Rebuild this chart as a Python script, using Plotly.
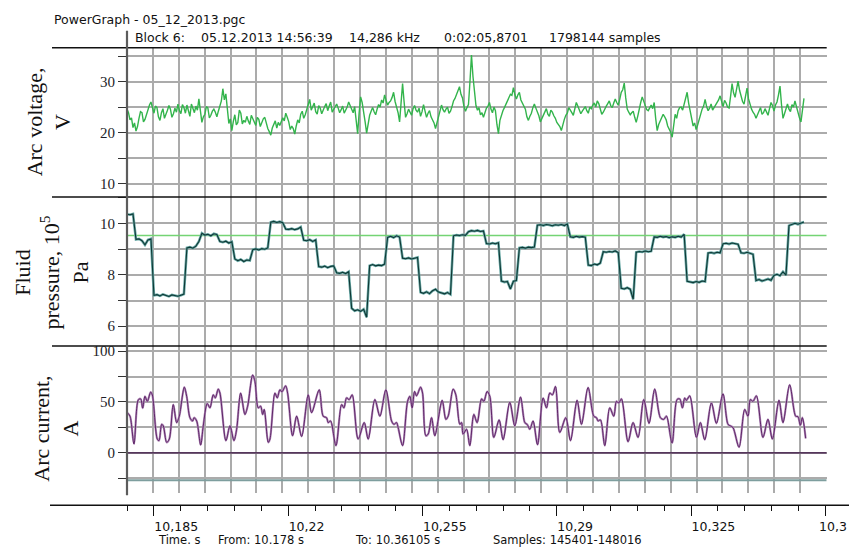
import numpy as np
import plotly.graph_objects as go

# ---------------- data ----------------
t_from = 10.178
t_to = 10.36105
grid_step = 0.007
panel_t_end = 10.3672
time_axis_end = 10.36035

voltage = [
    24.6, 23.9, 22.5, 22.9, 21.0, 21.9, 20.3, 21.2, 22.8, 24.1, 23.9, 22.1, 22.6, 23.7, 24.5, 25.4, 26.0, 24.6, 23.8, 25.2,
    24.9, 23.1, 22.4, 23.9, 24.7, 22.8, 23.5, 24.4, 25.3, 24.6, 23.0, 23.7, 24.8, 24.0, 25.6, 24.3, 23.7, 25.5, 24.9, 23.8,
    25.4, 24.5, 23.2, 25.6, 24.8, 23.9, 25.2, 24.4, 26.6, 24.0, 22.0, 23.1, 23.6, 25.1, 24.8, 22.9, 23.4, 24.2, 24.6, 24.0,
    23.1, 24.2, 25.0, 26.2, 28.6, 26.4, 27.6, 24.3, 21.8, 22.7, 20.4, 22.2, 23.5, 21.5, 22.0, 24.4, 23.8, 21.7, 22.4, 22.0,
    23.2, 22.3, 21.6, 23.4, 22.8, 21.9, 21.4, 23.0, 22.6, 21.2, 21.9, 22.7, 23.0, 21.6, 20.8, 20.2, 19.5, 20.9, 21.8, 22.3,
    20.9, 22.0, 21.4, 22.2, 22.9, 22.3, 23.8, 23.0, 22.1, 20.6, 21.3, 20.8, 19.7, 21.3, 22.5, 21.9, 23.6, 24.2, 22.8, 23.5,
    24.7, 25.3, 26.5, 24.4, 25.0, 25.8, 24.1, 23.6, 25.3, 24.8, 23.7, 24.6, 25.1, 25.7, 24.3, 25.2, 26.0, 24.0, 24.5, 24.9,
    25.6, 24.8, 23.9, 24.5, 25.2, 23.8, 24.4, 25.0, 26.0, 25.2, 24.3, 23.9, 25.1, 22.6, 19.8, 23.9, 27.0, 25.9, 24.2, 22.1,
    19.9, 21.8, 23.4, 24.2, 24.9, 24.1, 23.5, 24.6, 25.5, 25.0, 26.4, 25.8, 27.4, 26.3, 25.4, 25.9, 26.2, 26.9, 27.9, 26.1,
    25.0, 23.9, 22.1, 26.0, 29.6, 26.1, 23.0, 23.7, 24.6, 24.0, 23.4, 24.7, 25.3, 24.4, 24.0, 24.8, 23.2, 24.1, 25.5, 24.2,
    23.0, 23.8, 24.3, 23.1, 22.4, 21.9, 20.8, 22.0, 23.4, 24.6, 25.4, 24.5, 24.0, 24.6, 25.0, 23.8, 24.2, 25.1, 26.2, 26.7,
    27.6, 28.1, 29.0, 27.5, 26.8, 25.1, 24.2, 24.9, 25.5, 30.0, 35.2, 31.0, 27.8, 25.3, 24.4, 24.9, 23.5, 23.9, 23.0, 24.1,
    24.8, 25.2, 25.9, 24.6, 23.9, 25.0, 24.3, 21.6, 19.8, 22.4, 23.6, 24.3, 24.9, 25.6, 26.3, 26.9, 27.5, 27.3, 28.8, 27.4,
    26.6, 27.4, 27.9, 26.4, 25.8, 25.2, 24.6, 23.1, 22.4, 23.2, 23.8, 24.9, 25.6, 24.8, 24.2, 23.3, 22.1, 22.8, 23.5, 24.3,
    24.7, 23.6, 23.2, 24.4, 24.0, 23.3, 22.8, 22.0, 21.5, 21.2, 20.4, 21.7, 22.6, 23.4, 23.8, 24.9, 24.5, 23.9, 23.4, 24.6,
    25.9, 25.2, 24.6, 23.7, 24.2, 24.8, 25.1, 24.3, 23.8, 25.0, 24.7, 25.4, 25.8, 25.0, 26.2, 25.7, 24.8, 23.6, 24.0, 24.7,
    25.2, 25.7, 26.2, 25.3, 24.9, 25.8, 26.6, 25.9, 25.4, 26.5, 27.9, 28.4, 29.7, 26.8, 24.6, 24.0, 23.5, 23.9, 24.2, 23.0,
    22.0, 23.2, 24.8, 25.9, 27.0, 26.2, 25.1, 24.5, 24.3, 24.9, 25.4, 24.7, 25.9, 22.8, 20.4, 21.6, 22.4, 23.2, 23.6, 23.1,
    22.5, 21.3, 20.8, 20.1, 19.1, 21.9, 23.6, 22.8, 24.3, 24.9, 25.0, 24.4, 25.7, 26.6, 27.9, 25.8, 24.2, 22.5, 21.3, 21.9,
    20.6, 21.5, 22.7, 23.9, 24.6, 25.2, 26.5, 25.1, 24.3, 24.8, 25.6, 24.4, 24.9, 25.5, 26.0, 26.4, 27.2, 26.1, 25.1, 26.3,
    25.8, 25.0, 24.8, 27.1, 29.6, 27.8, 26.9, 28.5, 30.1, 28.3, 27.2, 26.1, 25.6, 26.9, 28.7, 26.6, 25.4, 24.6, 24.0, 23.6,
    22.8, 23.4, 24.3, 24.9, 23.6, 23.9, 24.7, 24.1, 23.4, 24.7, 25.9, 25.3, 24.2, 25.4, 26.0, 27.4, 29.1, 25.5, 22.8, 23.7,
    24.9, 25.6, 24.6, 24.1, 25.5, 25.0, 26.2, 24.9, 23.6, 22.9, 22.1, 24.3, 26.7,
]

pressure = [
    10.36, 10.34, 10.37, 9.38, 9.40, 9.33, 9.17, 9.36, 9.40, 7.20,
    7.23, 7.18, 7.24, 7.20, 7.16, 7.22, 7.19, 7.17, 7.21, 7.25,
    9.05, 9.08, 9.04, 9.12, 9.30, 9.62, 9.55, 9.58, 9.52, 9.60,
    9.57, 9.30, 9.27, 9.31, 9.24, 9.29, 8.62, 8.55, 8.60, 8.52,
    8.58, 8.56, 8.98, 9.01, 8.97, 9.02, 9.00, 9.05, 10.05, 10.08,
    10.04, 10.07, 10.03, 9.78, 9.77, 9.80, 9.76, 9.79, 9.86, 9.35,
    9.33, 9.37, 9.30, 9.36, 8.32, 8.30, 8.34, 8.28, 8.33, 8.35,
    8.08, 8.06, 8.10, 8.05, 8.12, 6.70, 6.60, 6.64, 6.58, 6.66,
    6.35, 8.36, 8.40, 8.35, 8.38, 8.36, 8.42, 9.46, 9.50, 9.45,
    9.52, 9.47, 8.65, 8.63, 8.66, 8.62, 8.65, 8.68, 7.32, 7.28,
    7.34, 7.27, 7.38, 7.44, 7.33, 7.29, 7.26, 7.31, 7.24, 9.52,
    9.55, 9.53, 9.56, 9.54, 9.68, 9.72, 9.70, 9.73, 9.69, 9.71,
    9.22, 9.20, 9.24, 9.21, 9.25, 7.76, 7.72, 7.74, 7.45, 7.75,
    7.78, 9.05, 9.07, 9.04, 9.08, 9.06, 9.08, 9.93, 9.95, 9.92,
    9.96, 9.94, 9.91, 9.95, 9.93, 9.96, 9.92, 9.98, 9.48, 9.46,
    9.50, 9.47, 9.49, 9.47, 8.38, 8.36, 8.42, 8.39, 8.46, 8.90,
    8.88, 8.91, 8.89, 8.93, 8.87, 7.48, 7.45, 7.50, 7.44, 7.05,
    8.88, 8.91, 8.89, 8.93, 8.90, 8.92, 9.48, 9.46, 9.50, 9.47,
    9.49, 9.45, 9.48, 9.46, 9.50, 9.47, 9.58, 7.75, 7.72, 7.70,
    7.74, 7.71, 7.76, 7.74, 8.85, 8.87, 8.84, 8.88, 8.86, 9.21,
    9.23, 9.20, 9.24, 9.22, 9.19, 8.86, 8.84, 8.88, 8.85, 8.80,
    7.78, 7.82, 7.76, 7.80, 7.84, 7.79, 7.98, 8.02, 7.97, 8.12,
    7.99, 9.92, 9.98, 10.01, 9.97, 10.03, 10.06,
]

current_t = [
    10.17808, 10.17881, 10.17989, 10.18105, 10.18170, 10.18224, 10.18286, 10.18349, 10.18441, 10.18484,
    10.18619, 10.18665, 10.18738, 10.18781, 10.18873, 10.18943, 10.19051, 10.19143, 10.19214, 10.19349,
    10.19414, 10.19503, 10.19576, 10.19611, 10.19684, 10.19792, 10.19862, 10.19970, 10.20043, 10.20132,
    10.20187, 10.20268, 10.20314, 10.20476, 10.20584, 10.20692, 10.20765, 10.20873, 10.20989, 10.21062,
    10.21197, 10.21260, 10.21349, 10.21414, 10.21468, 10.21511, 10.21619, 10.21665, 10.21800, 10.21862,
    10.21935, 10.21989, 10.22089, 10.22143, 10.22278, 10.22387, 10.22522, 10.22700, 10.22792, 10.22997,
    10.23105, 10.23197, 10.23241, 10.23305, 10.23449, 10.23603, 10.23665, 10.23738, 10.23808, 10.23889,
    10.24051, 10.24214, 10.24322, 10.24503, 10.24638, 10.24800, 10.24954, 10.25016, 10.25089, 10.25132,
    10.25251, 10.25387, 10.25449, 10.25511, 10.25576, 10.25630, 10.25738, 10.25792, 10.25881, 10.25943,
    10.26035, 10.26124, 10.26322, 10.26422, 10.26484, 10.26619, 10.26692, 10.26800, 10.26846, 10.26889,
    10.26981, 10.27070, 10.27178, 10.27268, 10.27387, 10.27449, 10.27538, 10.27611, 10.27719, 10.27862,
    10.27970, 10.28151, 10.28286, 10.28441, 10.28557, 10.28619, 10.28692, 10.28781, 10.28900, 10.29051,
    10.29143, 10.29232, 10.29305, 10.29387, 10.29503, 10.29665, 10.29792, 10.29970, 10.30089, 10.30268,
    10.30422, 10.30495, 10.30538, 10.30603, 10.30719, 10.30854, 10.30962, 10.31035, 10.31097, 10.31170,
    10.31349, 10.31484, 10.31619, 10.31773, 10.31916, 10.32070, 10.32224, 10.32314, 10.32387, 10.32538,
    10.32673, 10.32746, 10.32819, 10.32881, 10.32927, 10.33016, 10.33197, 10.33305, 10.33422, 10.33603,
    10.33738, 10.33916, 10.34051, 10.34116, 10.34187, 10.34349, 10.34503, 10.34592, 10.34657, 10.34727,
    10.34819, 10.34997, 10.35132, 10.35251, 10.35430, 10.35538, 10.35719, 10.35881, 10.35943, 10.36008,
    10.36062, 10.36151,
]

current = [
    39.4, 36.0, 8.7, 52.0, 53.0, 44.0, 55.5, 50.6, 59.7, 57.0,
    13.5, 12.0, 28.0, 26.5, 10.3, 13.5, 47.4, 29.7, 36.0, 64.5,
    55.5, 34.5, 31.3, 34.5, 31.3, 7.7, 26.5, 48.4, 44.2, 57.0,
    54.0, 62.6, 58.7, 12.0, 26.5, 12.0, 23.2, 58.7, 37.7, 45.8,
    76.5, 70.0, 44.2, 45.8, 37.7, 42.6, 10.3, 13.5, 58.7, 54.0,
    62.0, 60.0, 65.8, 58.7, 16.8, 36.0, 16.1, 57.0, 39.4, 62.0,
    36.0, 34.5, 29.7, 31.3, 7.1, 47.4, 44.2, 54.0, 52.3, 57.0,
    13.5, 29.7, 13.5, 52.3, 36.0, 62.0, 31.3, 28.0, 29.7, 24.8,
    7.1, 50.6, 55.5, 44.2, 60.3, 56.0, 64.5, 58.7, 16.8, 18.4,
    34.5, 16.8, 51.6, 32.9, 36.0, 62.6, 57.0, 28.0, 29.7, 18.4,
    23.2, 7.1, 37.7, 29.7, 53.0, 50.6, 60.3, 55.5, 15.2, 32.3,
    12.9, 49.7, 26.5, 54.8, 29.7, 28.0, 23.2, 31.3, 8.0, 53.9,
    44.2, 58.7, 57.0, 65.2, 20.0, 34.5, 12.0, 51.6, 28.0, 64.2,
    36.0, 34.5, 31.3, 32.3, 7.1, 44.2, 36.0, 50.6, 49.0, 53.0,
    11.0, 29.7, 15.2, 52.3, 29.0, 62.6, 34.5, 32.9, 36.0, 9.7,
    52.3, 53.0, 44.2, 53.9, 51.6, 56.0, 15.2, 29.7, 12.9, 49.0,
    29.0, 58.0, 28.0, 26.5, 24.8, 5.5, 42.6, 36.0, 52.3, 50.6,
    56.0, 15.2, 32.9, 13.5, 51.6, 29.7, 66.8, 36.0, 35.5, 27.1,
    34.5, 14.2,
]

pressure_setpoint = 9.53
current_zero = 0.0
current_lower = -27.0

time_tickvals = [10.185, 10.22, 10.255, 10.29, 10.325, 10.36]
time_ticktext = ["10,185", "10,22", "10,255", "10,29", "10,325", ""]
time_edge_label = "10,3"   # the last label, cut by the right edge in the source

header_title = "PowerGraph - 05_12_2013.pgc"
header_items = ["Block 6:", "05.12.2013 14:56:39", "14,286 kHz", "0:02:05,8701", "1798144 samples"]
footer_items = ["Time. s", "From: 10.178 s", "To: 10.36105 s", "Samples: 145401-148016"]

# ---------------- figure ----------------
W, H = 849, 547
def px(x):
    return x / W
def py(y):
    return 1 - y / H

t_samples = np.linspace(t_from, t_to, len(voltage))
t_press = np.linspace(t_from, t_to, len(pressure))
t_line = [t_from, panel_t_end]

fig = go.Figure()

fig.add_trace(go.Scatter(x=t_samples, y=voltage, xaxis="x", yaxis="y", mode="lines",
                         line=dict(color="#33b44c", width=1.4), hoverinfo="skip"))

fig.add_trace(go.Scatter(x=t_line, y=[pressure_setpoint] * 2, xaxis="x2", yaxis="y2", mode="lines",
                         line=dict(color="#74d474", width=1.4), hoverinfo="skip"))
fig.add_trace(go.Scatter(x=t_press, y=pressure, xaxis="x2", yaxis="y2", mode="lines",
                         line=dict(color="#6aa9a6", width=2.6), hoverinfo="skip"))
fig.add_trace(go.Scatter(x=t_press, y=pressure, xaxis="x2", yaxis="y2", mode="lines",
                         line=dict(color="#0e3835", width=1.1), hoverinfo="skip"))

fig.add_trace(go.Scatter(x=t_line, y=[current_zero] * 2, xaxis="x3", yaxis="y3", mode="lines",
                         line=dict(color="#3a0f42", width=1.2), hoverinfo="skip"))
fig.add_trace(go.Scatter(x=t_line, y=[current_lower] * 2, xaxis="x3", yaxis="y3", mode="lines",
                         line=dict(color="#7e9e9e", width=2), hoverinfo="skip"))
fig.add_trace(go.Scatter(x=current_t, y=current, xaxis="x3", yaxis="y3", mode="lines",
                         line=dict(color="#b28db9", width=2.2, shape="spline", smoothing=0.9), hoverinfo="skip"))
fig.add_trace(go.Scatter(x=current_t, y=current, xaxis="x3", yaxis="y3", mode="lines",
                         line=dict(color="#561a60", width=0.9, shape="spline", smoothing=0.9), hoverinfo="skip"))

# invisible trace that makes the time axis render (overlaying the lower panel)
fig.add_trace(go.Scatter(x=[t_from], y=[None], xaxis="x4", yaxis="y3", mode="lines",
                         hoverinfo="skip", showlegend=False))

grid_c = "#ababab"
xdom = [px(127), px(826.7)]
common_x = dict(range=[t_from, panel_t_end], tick0=t_from, dtick=grid_step, showgrid=True,
                gridcolor=grid_c, gridwidth=1.5, showticklabels=False, ticks="", zeroline=False,
                showline=False, domain=xdom)

tickfont = dict(family="Liberation Serif", size=15, color="#1e1e28")

def yax(rng, dom, major, minor, anchor):
    return dict(range=rng, domain=dom, anchor=anchor, tick0=0, dtick=major, ticks="outside",
                ticklen=8, tickcolor="#333", tickwidth=1, showgrid=True, gridcolor=grid_c,
                gridwidth=1.5, zeroline=False, showline=False, tickfont=tickfont,
                minor=dict(tick0=0, dtick=minor, ticks="outside", ticklen=8, tickcolor="#333",
                           tickwidth=1, showgrid=True, gridcolor=grid_c, gridwidth=1.5))

fig.update_layout(
    width=W, height=H, autosize=False,
    margin=dict(l=0, r=0, t=0, b=0),
    paper_bgcolor="white", plot_bgcolor="white", showlegend=False,
    xaxis=dict(**common_x, anchor="y"),
    xaxis2=dict(**common_x, anchor="y2"),
    xaxis3=dict(**common_x, anchor="y3"),
    xaxis4=dict(range=[t_from, time_axis_end], domain=xdom, anchor="free", position=py(505),
                overlaying="x3",
                tickmode="array", tickvals=time_tickvals, ticktext=time_ticktext,
                ticks="outside", ticklen=10, tickcolor="#111", tickwidth=1,
                ticklabelposition="outside right", ticklabelstandoff=10,
                showgrid=False, zeroline=False, showline=False,
                tickfont=dict(family="DejaVu Sans", size=12.5, color="#111"),
                minor=dict(tick0=t_from, dtick=grid_step, ticks="outside", ticklen=5,
                           tickcolor="#111", tickwidth=1, showgrid=False)),
    yaxis=yax([7.41, 36.62], [py(195), py(45)], 10, 5, "x"),
    yaxis2=yax([5.226, 11.034], [py(345), py(195)], 2, 1, "x2"),
    yaxis3=yax([-39.8, 104.9], [py(493), py(345)], 50, 25, "x3"),
)

shapes = []
for yy in (45, 195, 345):
    shapes.append(dict(type="line", xref="paper", yref="paper", x0=px(52), x1=px(826.7),
                       y0=py(yy), y1=py(yy), line=dict(color="#111", width=1.5), layer="above"))
shapes.append(dict(type="line", xref="paper", yref="paper", x0=px(50), x1=1,
                   y0=py(505), y1=py(505), line=dict(color="#111", width=1.3), layer="above"))
shapes.append(dict(type="line", xref="paper", yref="paper", x0=px(127), x1=px(127),
                   y0=py(28), y1=py(495), line=dict(color="#5c5c5c", width=2.2), layer="above"))
fig.update_layout(shapes=shapes)

ann = []
hfont = dict(family="DejaVu Sans", size=12.5, color="#111")
ffont = dict(family="DejaVu Sans", size=11.5, color="#111")
ann.append(dict(text=header_title, x=px(52), y=py(17), xref="paper", yref="paper",
                xanchor="left", yanchor="middle", showarrow=False, font=hfont))
for txt, xx in zip(header_items, [132.7, 199.3, 346.7, 441.7, 546.7]):
    ann.append(dict(text=txt, x=px(xx), y=py(35), xref="paper", yref="paper",
                    xanchor="left", yanchor="middle", showarrow=False, font=hfont))
for txt, xx in zip(footer_items, [155.6, 216, 352.7, 491]):
    ann.append(dict(text=txt, x=px(xx), y=py(539.5), xref="paper", yref="paper",
                    xanchor="left", yanchor="middle", showarrow=False, font=ffont))
ann.append(dict(text=time_edge_label, x=1, y=py(526), xref="paper", yref="paper",
                xanchor="right", yanchor="middle", showarrow=False, font=hfont))

tfont = dict(family="Liberation Serif", size=22, color="#111")
titles = [("Arc voltage,<br>V", 49, 120),
          ("Fluid<br>pressure, 10<sup>5</sup><br>Pa", 51, 271),
          ("Arc current,<br>A", 56, 428)]
for txt, xx, yy in titles:
    ann.append(dict(text=txt, x=px(xx), y=py(yy), xref="paper", yref="paper",
                    xanchor="center", yanchor="middle", showarrow=False, textangle=-90,
                    font=tfont))
fig.update_layout(annotations=ann)

fig.write_html("out.html", config={"displayModeBar": False},
               post_script="document.body.style.margin='0';")
